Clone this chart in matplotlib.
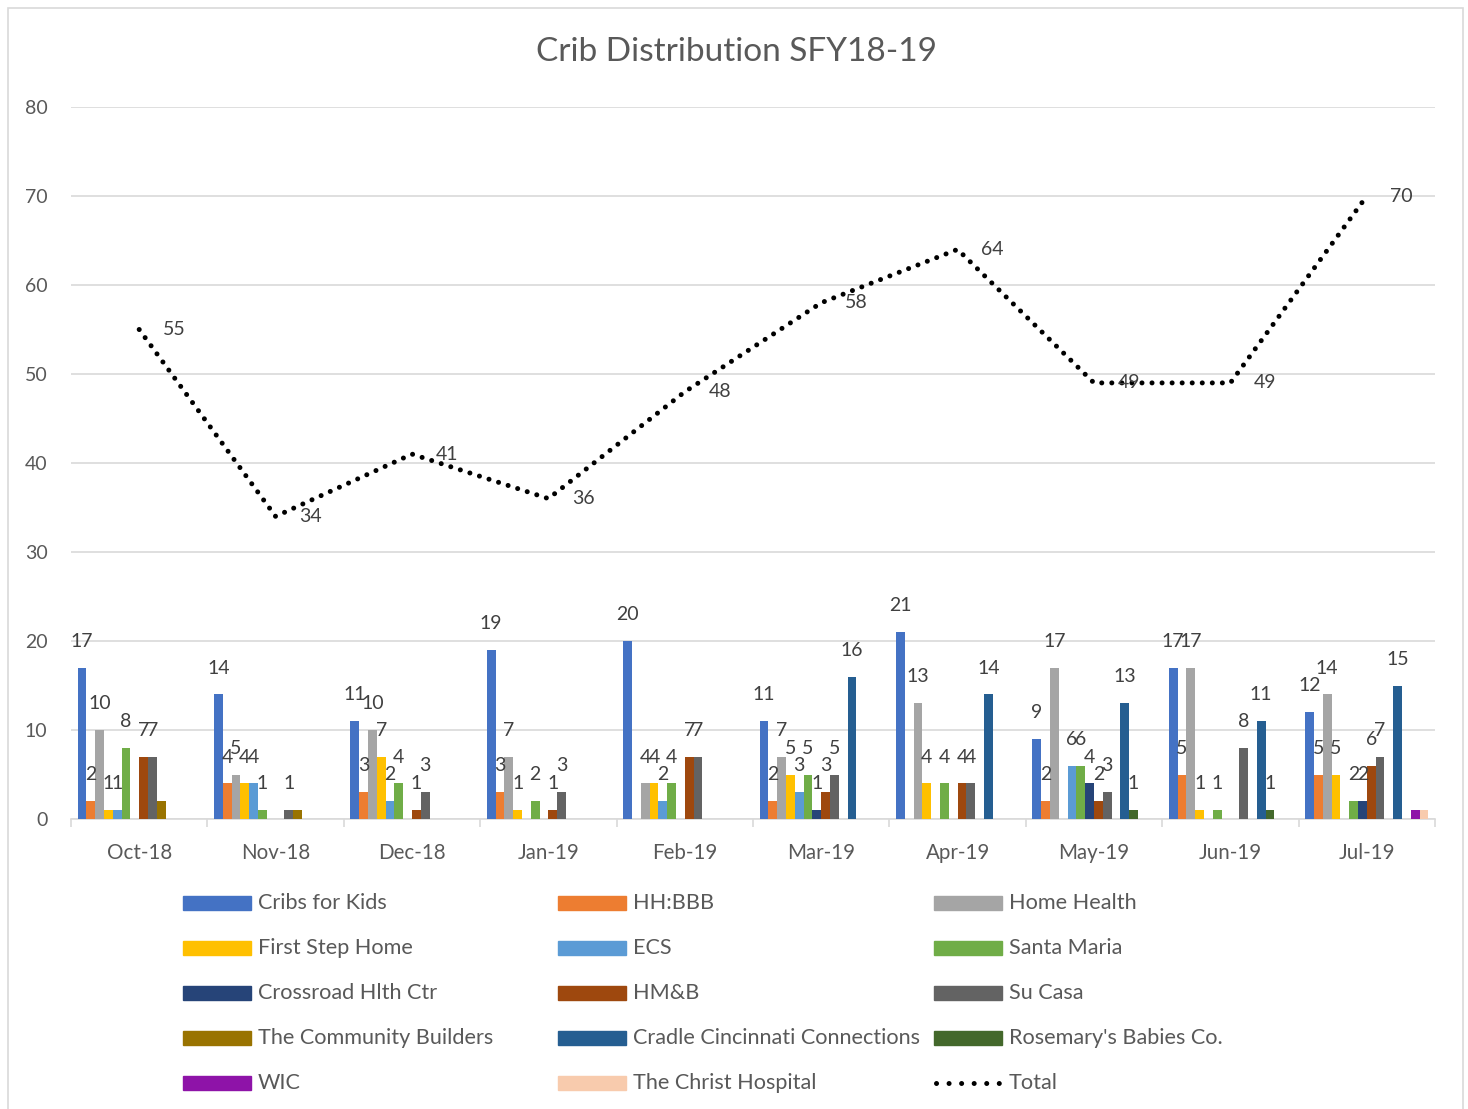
import numpy as np
import matplotlib
matplotlib.use("Agg")
import matplotlib.pyplot as plt
from matplotlib.patches import Rectangle
from matplotlib.lines import Line2D

plt.rcParams['font.family'] = ['Lato', 'DejaVu Sans']

months = ["Oct-18", "Nov-18", "Dec-18", "Jan-19", "Feb-19",
          "Mar-19", "Apr-19", "May-19", "Jun-19", "Jul-19"]

series_names = ["Cribs for Kids", "HH:BBB", "Home Health", "First Step Home", "ECS",
                "Santa Maria", "Crossroad Hlth Ctr", "HM&B", "Su Casa",
                "The Community Builders", "Cradle Cincinnati Connections",
                "Rosemary's Babies Co.", "WIC", "The Christ Hospital"]

cribs_for_kids   = [17, 14, 11, 19, 20, 11, 21, 9, 17, 12]
hh_bbb           = [2, 4, 3, 3, 0, 2, 0, 2, 5, 5]
home_health      = [10, 5, 10, 7, 4, 7, 13, 17, 17, 14]
first_step_home  = [1, 4, 7, 1, 4, 5, 4, 0, 1, 5]
ecs              = [1, 4, 2, 0, 2, 3, 0, 6, 0, 0]
santa_maria      = [8, 1, 4, 2, 4, 5, 4, 6, 1, 2]
crossroad        = [0, 0, 0, 0, 0, 1, 0, 4, 0, 2]
hmb              = [7, 0, 1, 1, 7, 3, 4, 2, 0, 6]
su_casa          = [7, 1, 3, 3, 7, 5, 4, 3, 8, 7]
community_build  = [2, 1, 0, 0, 0, 0, 0, 0, 0, 0]
cradle_cinci     = [0, 0, 0, 0, 0, 16, 14, 13, 11, 15]
rosemarys        = [0, 0, 0, 0, 0, 0, 0, 1, 1, 0]
wic              = [0, 0, 0, 0, 0, 0, 0, 0, 0, 1]
christ_hospital  = [0, 0, 0, 0, 0, 0, 0, 0, 0, 1]

total = [55, 34, 41, 36, 48, 58, 64, 49, 49, 70]

series_values = [cribs_for_kids, hh_bbb, home_health, first_step_home, ecs,
                 santa_maria, crossroad, hmb, su_casa, community_build,
                 cradle_cinci, rosemarys, wic, christ_hospital]

colors = ["#4472C4", "#ED7D31", "#A5A5A5", "#FFC000", "#5B9BD5", "#70AD47",
          "#264478", "#9E480E", "#636363", "#997300", "#255E91", "#43682B",
          "#8E13A8", "#F8CBAD"]
labelled = [True] * 9 + [False, True, True, False, False]

W, H = 1468, 1109
fig = plt.figure(figsize=(W / 100, H / 100), dpi=100)

def fx(px):
    return px / W

def fy(py):
    return 1 - py / H

# outer chart border
fig.add_artist(Rectangle((fx(8), fy(1112)), fx(1463) - fx(8), fy(8) - fy(1112),
                         transform=fig.transFigure, fill=False,
                         edgecolor="#D9D9D9", lw=1.2))

ax = fig.add_axes([fx(71), fy(819), fx(1435) - fx(71), fy(107) - fy(819)])

txt_col = "#595959"
lab_col = "#404040"
n = len(series_names)
w = 0.0645
x = np.arange(len(months))

for i, (name, vals, col) in enumerate(zip(series_names, series_values, colors)):
    xs = x + (i - (n - 1) / 2) * w
    ax.bar(xs, vals, width=w, color=col, label=name, zorder=3)
    if labelled[i]:
        for xi, v in zip(xs, vals):
            if v:
                ax.annotate(str(v), (xi, v), xytext=(0, 19), textcoords="offset points",
                            ha="center", va="center", fontsize=14, color=lab_col, zorder=5)

ax.plot(x, total, color="black", lw=3.6, linestyle=(0, (0.01, 2.0)),
        dash_capstyle="round", zorder=4)
for xi, v in zip(x, total):
    ax.annotate(str(v), (xi, v), xytext=(17, 0), textcoords="offset points",
                ha="left", va="center", fontsize=14, color=lab_col, zorder=5)

ax.set_xlim(-0.5, len(months) - 0.5)
ax.set_ylim(0, 80)
ax.set_yticks(np.arange(0, 81, 10))
ax.set_xticks(x)
ax.set_xticklabels(months)
ax.set_xticks(np.arange(-0.5, len(months), 1.0), minor=True)
ax.tick_params(axis="x", which="major", length=0, pad=17, labelsize=14.8, labelcolor=txt_col)
ax.tick_params(axis="x", which="minor", length=6, width=1.2, color="#D9D9D9")
ax.tick_params(axis="y", length=0, pad=17, labelsize=14, labelcolor=txt_col)
ax.yaxis.grid(True, color="#D9D9D9", lw=1.2, zorder=0)
ax.set_axisbelow(True)
for s in ["top", "right", "left"]:
    ax.spines[s].set_visible(False)
ax.spines["bottom"].set_color("#D9D9D9")
ax.spines["bottom"].set_linewidth(1.2)

fig.text(fx(736), fy(52), "Crib Distribution SFY18-19", ha="center", va="center",
         fontsize=24, color=txt_col)

# legend (row-major, 3 columns)
col_x = [183, 558, 934]
row_y = [903, 948, 993, 1038, 1083]
entries = list(zip(series_names, colors)) + [("Total", None)]
for k, (name, col) in enumerate(entries):
    r, c = divmod(k, 3)
    x0, y0 = col_x[c], row_y[r]
    if col is not None:
        fig.add_artist(Rectangle((fx(x0), fy(y0 + 7)), fx(68), 14 / H,
                                 transform=fig.transFigure, color=col))
    else:
        fig.add_artist(Line2D([fx(x0 + 2), fx(x0 + 66)], [fy(y0), fy(y0)],
                              transform=fig.transFigure, color="black", lw=3.6,
                              linestyle=(0, (0.01, 2.5)), dash_capstyle="round"))
    fig.text(fx(x0 + 75), fy(y0), name, ha="left", va="center",
             fontsize=15.6, color=txt_col)

fig.savefig("out.png", dpi=100)
